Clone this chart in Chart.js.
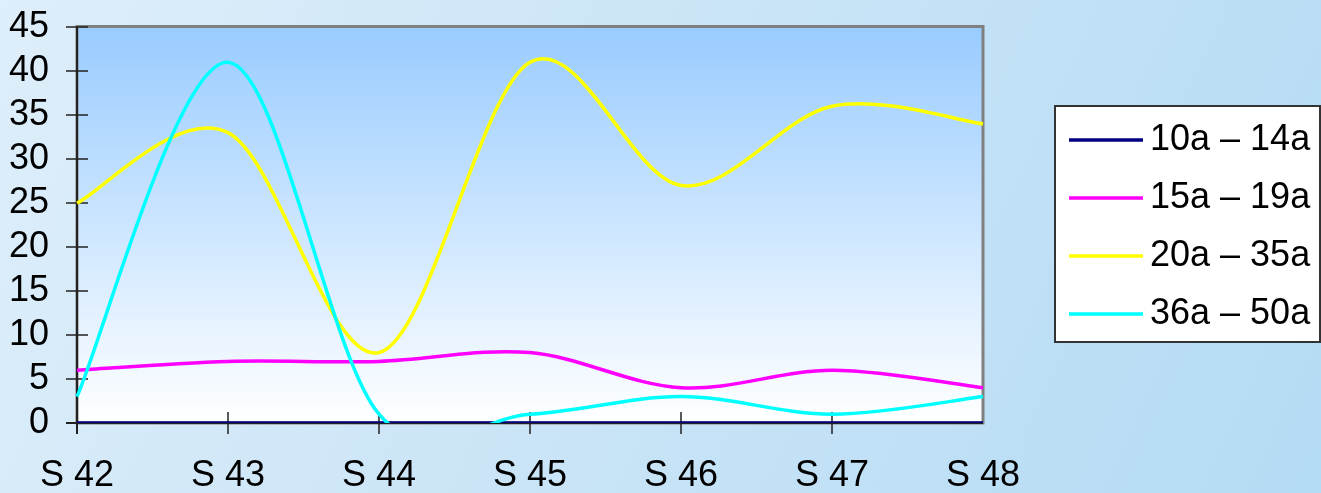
<!DOCTYPE html>
<html>
<head>
<meta charset="utf-8">
<script src="https://cdn.jsdelivr.net/npm/chart.js@4"></script>
<style>
  html, body { margin: 0; padding: 0; }
  body {
    width: 1321px; height: 493px; overflow: hidden;
    background: linear-gradient(115deg, #deeefa 0%, #cbe5f7 45%, #b4dbf4 100%);
  }
  canvas { display: block; }
</style>
</head>
<body>
<canvas id="chart" width="1321" height="493"></canvas>
<script>
const weeks = ['S 42', 'S 43', 'S 44', 'S 45', 'S 46', 'S 47', 'S 48'];
const age10to14 = [0, 0, 0, 0, 0, 0, 0];
const age15to19 = [6, 7, 7, 8, 4, 6, 4];
const age20to35 = [25, 33, 8, 41, 27, 36, 34];
const age36to50 = [3, 41, 1, 1, 3, 1, 3];
const seriesNames = ['10a – 14a', '15a – 19a', '20a – 35a', '36a – 50a'];
const seriesColors = ['#000080', '#ff00ff', '#ffff00', '#00ffff'];

const FONT = '"Liberation Sans", Arial, sans-serif';

// excel style smoothing: control points = p +/- (next - prev) / 6
const excelSmooth = {
  id: 'excelSmooth',
  beforeDatasetDraw(chart, args) {
    const meta = args.meta;
    const pts = meta.data;
    const n = pts.length;
    for (let i = 0; i < n; i++) {
      const p = pts[i];
      const prev = pts[Math.max(i - 1, 0)];
      const next = pts[Math.min(i + 1, n - 1)];
      const dx = (next.x - prev.x) / 6;
      const dy = (next.y - prev.y) / 6;
      p.cp1x = p.x - dx; p.cp1y = p.y - dy;
      p.cp2x = p.x + dx; p.cp2y = p.y + dy;
    }
    meta.dataset._pointsUpdated = true;
    meta.dataset._path = undefined;
  }
};

const plotFrame = {
  id: 'plotFrame',
  beforeDraw(chart) {
    const { ctx, chartArea: a } = chart;
    const g = ctx.createLinearGradient(0, a.top, 0, a.bottom);
    g.addColorStop(0, '#99ccff');
    g.addColorStop(1, '#ffffff');
    ctx.save();
    ctx.fillStyle = g;
    ctx.fillRect(a.left, a.top, a.right - a.left, a.bottom - a.top);
    ctx.restore();
  },
  beforeDatasetsDraw(chart) {
    const { ctx, chartArea: a, scales } = chart;
    ctx.save();
    ctx.strokeStyle = '#808080';
    ctx.lineWidth = 3;
    ctx.strokeRect(a.left, a.top - 0.5, a.right - a.left, a.bottom - a.top + 0.5);
    ctx.strokeStyle = '#222';
    ctx.lineWidth = 2;
    ctx.beginPath();
    ctx.moveTo(a.left, a.top);
    ctx.lineTo(a.left, a.bottom + 11);
    ctx.moveTo(a.left - 11, a.bottom);
    ctx.lineTo(a.right, a.bottom);
    ctx.stroke();
    ctx.lineWidth = 1.5;
    ctx.beginPath();
    scales.y.ticks.forEach(t => {
      const y = scales.y.getPixelForValue(t.value);
      ctx.moveTo(a.left - 11, y);
      ctx.lineTo(a.left + 11, y);
    });
    weeks.forEach((w, i) => {
      const x = scales.x.getPixelForValue(i);
      if (i === weeks.length - 1) return;
      ctx.moveTo(x, a.bottom - 11);
      ctx.lineTo(x, a.bottom + 11);
    });
    ctx.stroke();
    ctx.restore();
  }
};

const boxLegend = {
  id: 'boxLegend',
  afterDraw(chart) {
    const ctx = chart.ctx;
    ctx.save();
    ctx.fillStyle = '#ffffff';
    ctx.fillRect(1055, 106, 265, 236);
    ctx.strokeStyle = '#333';
    ctx.lineWidth = 2;
    ctx.strokeRect(1055, 106, 265, 236);
    ctx.font = '36px ' + FONT;
    ctx.textBaseline = 'middle';
    ctx.fillStyle = '#000';
    chart.data.datasets.forEach((ds, i) => {
      const y = 140 + i * 58;
      ctx.strokeStyle = ds.borderColor;
      ctx.lineWidth = 3.5;
      ctx.beginPath();
      ctx.moveTo(1069, y);
      ctx.lineTo(1143, y);
      ctx.stroke();
      ctx.fillText(ds.label, 1150, y);
    });
    ctx.restore();
  }
};

const series = [age10to14, age15to19, age20to35, age36to50];

new Chart(document.getElementById('chart'), {
  type: 'line',
  data: {
    labels: weeks,
    datasets: series.map((data, i) => ({
      label: seriesNames[i],
      data,
      borderColor: seriesColors[i],
      borderWidth: 3.5,
      pointRadius: 0,
      tension: 0.4,
      fill: false,
      order: 4 - i
    }))
  },
  options: {
    responsive: false,
    animation: false,
    layout: { padding: { top: 27, right: 338, left: 0, bottom: 0 } },
    plugins: {
      legend: { display: false },
      tooltip: { enabled: false }
    },
    scales: {
      x: {
        offset: false,
        grid: { display: false, drawTicks: false },
        border: { display: false },
        ticks: {
          color: '#000',
          font: { family: FONT, size: 36 },
          padding: 31,
          maxRotation: 0,
          autoSkip: false
        },
        afterFit(scale) {
          scale.height = 70;
          scale.paddingLeft = 0;
          scale.paddingRight = 0;
        }
      },
      y: {
        min: 0,
        max: 45,
        grid: { display: false, drawTicks: false },
        border: { display: false },
        ticks: {
          stepSize: 5,
          autoSkip: false,
          color: '#000',
          font: { family: FONT, size: 36 },
          padding: 28
        },
        afterFit(scale) {
          scale.width = 77;
          scale.paddingTop = 0;
          scale.paddingBottom = 0;
        }
      }
    }
  },
  plugins: [excelSmooth, plotFrame, boxLegend]
});
</script>
</body>
</html>
